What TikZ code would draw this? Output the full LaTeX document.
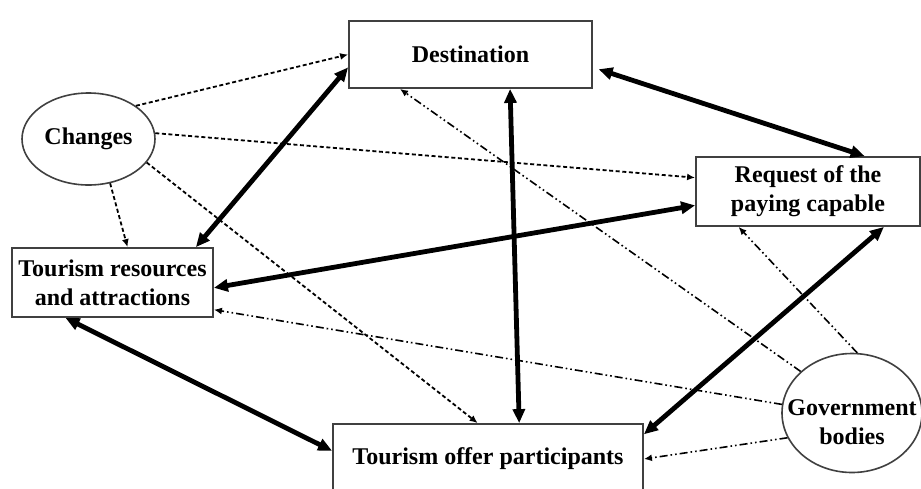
\documentclass[tikz,border=0pt]{standalone}
\usepackage{fontspec}
\setmainfont{Liberation Serif}
\usetikzlibrary{arrows.meta,shapes.geometric}

\begin{document}
\begin{tikzpicture}[x=0.5pt,y=-0.5pt,
	font=\fontsize{12}{14.5}\selectfont\bfseries,
	box/.style={draw=black!75,line width=0.9pt,fill=white,align=center,inner sep=0pt},
	oval/.style={draw=black!75,line width=0.8pt,ellipse,fill=white,inner sep=0pt},
	link/.style={line width=2.4pt,{Triangle[length=7pt,width=6pt]}-{Triangle[length=7pt,width=6pt]}},
	infl/.style={line width=0.9pt,dash pattern=on 2pt off 1.3pt,-{Latex[length=4pt,width=3.5pt]}},
	regul/.style={line width=0.8pt,dash pattern=on 4pt off 1.5pt on 0.8pt off 1.5pt on 0.8pt off 1.5pt,-{Latex[length=4pt,width=3.5pt]}}]
\clip (0,0) rectangle (921,488);
\fill[white] (0,0) rectangle (921,488);

% nodes
\node[box,minimum width=121.5pt,minimum height=33.5pt] (dest) at (470.5,54.5) {Destination};
\node[box,minimum width=112pt,minimum height=34.5pt] (req) at (808,191.5) {Request of the\\paying capable};
\node[box,minimum width=100.5pt,minimum height=34.5pt] (res) at (112.5,282.5) {Tourism resources\\and attractions};
\node[box,minimum width=155pt,minimum height=35pt] (off) at (488,459) {\raisebox{1.5pt}{Tourism offer participants}};
\node[oval,minimum width=66.5pt,minimum height=46pt] (chg) at (88.5,139) {Changes};
\node[oval,minimum width=70pt,minimum height=59.5pt,
	label={[align=center,yshift=-4.5pt]center:Government\\bodies}] (gov) at (852,413) {};

% main links
\draw[link] (res.23) -- (dest.186);
\draw[link,shorten <=3pt] (dest.354) -- (req.32);
\draw[link] (dest.319) -- (off.49);
\draw[link] (res.-3) -- (req.187);
\draw[link] (res.217) -- (off.177);
\draw[link] (off.9) -- (req.335);

% changes
\draw[infl] (chg.35) -- (dest.180);
\draw[infl] (chg.5) -- (req.173);
\draw[infl] (chg.296) -- (res.67);
\draw[infl] (chg.338) -- (off.106);

% government bodies
\draw[regul] (gov.141) -- (dest.206);
\draw[regul] (gov.85) -- (req.207);
\draw[regul] (gov.173) -- (res.-15);
\draw[regul] (gov.201) -- (off.east);
\end{tikzpicture}
\end{document}
